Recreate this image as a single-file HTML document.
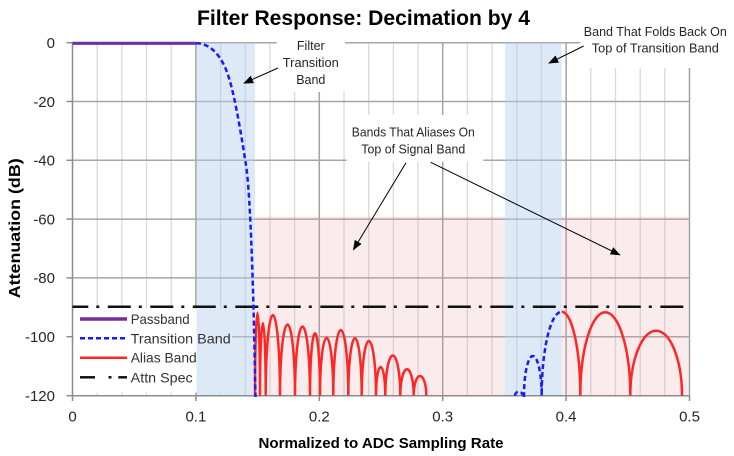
<!DOCTYPE html>
<html>
<head>
<meta charset="utf-8">
<style>
  html,body{margin:0;padding:0;background:#fff;}
  svg{display:block;}
  text{font-family:"Liberation Sans",Arial,sans-serif;}
</style>
</head>
<body>
<svg width="734" height="456" viewBox="0 0 734 456" xmlns="http://www.w3.org/2000/svg">
  <defs>
    <clipPath id="plot">
      <rect x="72.5" y="40" width="617.5" height="357.5"/>
    </clipPath>
    <marker id="ah" viewBox="0 0 10 8" markerWidth="10" markerHeight="8" refX="9.5" refY="4" orient="auto" markerUnits="userSpaceOnUse">
      <path d="M0,0 L10,4 L0,8 z" fill="#000"/>
    </marker>
  </defs>

  <rect width="734" height="456" fill="#fff"/>

  <!-- Title -->
  <text x="363.5" y="25" font-size="21" font-weight="bold" text-anchor="middle" textLength="333" lengthAdjust="spacingAndGlyphs" fill="#000">Filter Response: Decimation by 4</text>

  <!-- minor vertical gridlines -->
  <g stroke="#d9d9d9" stroke-width="1.3">
    <line x1="97.2" y1="42.7" x2="97.2" y2="395.7"/>
    <line x1="121.9" y1="42.7" x2="121.9" y2="395.7"/>
    <line x1="146.5" y1="42.7" x2="146.5" y2="395.7"/>
    <line x1="171.2" y1="42.7" x2="171.2" y2="395.7"/>
    <line x1="220.6" y1="42.7" x2="220.6" y2="395.7"/>
    <line x1="245.3" y1="42.7" x2="245.3" y2="395.7"/>
    <line x1="270.0" y1="42.7" x2="270.0" y2="395.7"/>
    <line x1="294.6" y1="42.7" x2="294.6" y2="395.7"/>
    <line x1="344.0" y1="42.7" x2="344.0" y2="395.7"/>
    <line x1="368.7" y1="42.7" x2="368.7" y2="395.7"/>
    <line x1="393.4" y1="42.7" x2="393.4" y2="395.7"/>
    <line x1="418.0" y1="42.7" x2="418.0" y2="395.7"/>
    <line x1="467.4" y1="42.7" x2="467.4" y2="395.7"/>
    <line x1="492.1" y1="42.7" x2="492.1" y2="395.7"/>
    <line x1="516.8" y1="42.7" x2="516.8" y2="395.7"/>
    <line x1="541.4" y1="42.7" x2="541.4" y2="395.7"/>
    <line x1="590.8" y1="42.7" x2="590.8" y2="395.7"/>
    <line x1="615.5" y1="42.7" x2="615.5" y2="395.7"/>
    <line x1="640.2" y1="42.7" x2="640.2" y2="395.7"/>
    <line x1="664.8" y1="42.7" x2="664.8" y2="395.7"/>
  </g>
  <!-- major vertical gridlines -->
  <g stroke="#a3a3a3" stroke-width="1.5">
    <line x1="195.9" y1="42.7" x2="195.9" y2="395.7"/>
    <line x1="319.3" y1="42.7" x2="319.3" y2="395.7"/>
    <line x1="442.7" y1="42.7" x2="442.7" y2="395.7"/>
    <line x1="566.1" y1="42.7" x2="566.1" y2="395.7"/>
    <line x1="689.5" y1="42.7" x2="689.5" y2="395.7"/>
  </g>
  <!-- horizontal gridlines -->
  <g stroke="#a6a6a6" stroke-width="1.5">
    <line x1="72.5" y1="42.7" x2="689.5" y2="42.7"/>
    <line x1="72.5" y1="101.5" x2="689.5" y2="101.5"/>
    <line x1="72.5" y1="160.3" x2="689.5" y2="160.3"/>
    <line x1="72.5" y1="219.1" x2="689.5" y2="219.1"/>
    <line x1="72.5" y1="277.9" x2="689.5" y2="277.9"/>
    <line x1="72.5" y1="336.7" x2="689.5" y2="336.7"/>
  </g>

  <!-- legend background -->
  <rect x="73.5" y="308.5" width="158.5" height="84" fill="#fff"/>

  <!-- shaded regions -->
  <rect x="196.5" y="42.7" width="58.5" height="353" fill="rgb(180,205,240)" fill-opacity="0.44"/>
  <rect x="505" y="42.7" width="56.7" height="353" fill="rgb(180,205,240)" fill-opacity="0.44"/>
  <rect x="255" y="216.5" width="250" height="179.2" fill="rgb(230,150,150)" fill-opacity="0.18"/>
  <rect x="561.7" y="216.5" width="127.8" height="179.2" fill="rgb(230,150,150)" fill-opacity="0.18"/>

  <!-- annotation boxes (white) -->
  <rect x="276.7" y="30" width="68.3" height="62" fill="#fff"/>
  <rect x="580.3" y="18" width="153.7" height="50" fill="#fff"/>
  <rect x="346.7" y="115" width="136.6" height="46.8" fill="#fff"/>

  <!-- axes -->
  <g stroke="#8c8c8c" stroke-width="1.5">
    <line x1="72.5" y1="42.7" x2="72.5" y2="396.5"/>
    <line x1="72" y1="395.7" x2="689.5" y2="395.7"/>
    <line x1="66.5" y1="42.7" x2="72.5" y2="42.7"/>
    <line x1="66.5" y1="101.5" x2="72.5" y2="101.5"/>
    <line x1="66.5" y1="160.3" x2="72.5" y2="160.3"/>
    <line x1="66.5" y1="219.1" x2="72.5" y2="219.1"/>
    <line x1="66.5" y1="277.9" x2="72.5" y2="277.9"/>
    <line x1="66.5" y1="336.7" x2="72.5" y2="336.7"/>
    <line x1="66.5" y1="395.7" x2="72.5" y2="395.7"/>
    <line x1="72.5" y1="395.7" x2="72.5" y2="401"/>
    <line x1="195.9" y1="395.7" x2="195.9" y2="401"/>
    <line x1="319.3" y1="395.7" x2="319.3" y2="401"/>
    <line x1="442.7" y1="395.7" x2="442.7" y2="401"/>
    <line x1="566.1" y1="395.7" x2="566.1" y2="401"/>
    <line x1="689.5" y1="395.7" x2="689.5" y2="401"/>
  </g>

  <!-- series -->
  <g clip-path="url(#plot)" fill="none">
    <!-- Attn spec -->
    <line x1="72.5" y1="306.8" x2="689.5" y2="306.8" stroke="#111" stroke-width="2.5" stroke-dasharray="23 8 3 8.5" stroke-dashoffset="7.2"/>
    <!-- Passband -->
    <line x1="72.5" y1="43.3" x2="196" y2="43.3" stroke="#7030a0" stroke-width="3.2"/>
    <!-- Alias band left -->
    <path d="M255,395.7 A2.5,83 0 0 1 260,395.7 A2.85,72.7 0 0 1 265.7,395.7 A7.15,80.7 0 0 1 280,395.7 A7.5,71.2 0 0 1 295,395.7 A7.5,69.2 0 0 1 310,395.7 A5,62.4 0 0 1 320,395.7 A6.65,58 0 0 1 333.3,395.7 A7.5,65.7 0 0 1 348.3,395.7 A6.7,57.4 0 0 1 361.7,395.7 A7.15,54.7 0 0 1 376,395.7 A4.65,28.7 0 0 1 385.3,395.7 A7.5,40.2 0 0 1 400.3,395.7 A6.7,26.4 0 0 1 413.7,395.7 A6.3,19.7 0 0 1 426.3,395.7" stroke="#ff2626" stroke-width="2.5" stroke-linejoin="miter"/>
    <!-- Alias band right -->
    <path d="M561.7,311.7 A18.6,84 0 0 1 580.3,395.7 A25,83.4 0 0 1 630.3,395.7 A25.85,65 0 0 1 682,395.7" stroke="#ff2626" stroke-width="2.5"/>
    <!-- Transition band -->
    <path d="M196,43.2 C210,43.2 222,55 229,78 C236,101 242,140 246,165 C249.5,187 253,260 255.5,397" stroke="#1a1aff" stroke-width="2.5" stroke-dasharray="5 3"/>
    <path d="M515,395.7 A3.85,4 0 0 1 522.7,395.7 M524,397 L524,395.7 A8.85,39.7 0 0 1 541.7,395.7 A20,84 0 0 1 561.7,311.7" stroke="#1a1aff" stroke-width="2.5" stroke-dasharray="5 3"/>
  </g>

  <!-- Y tick labels -->
  <g font-size="15" fill="#262626" text-anchor="end">
    <text x="55" y="48">0</text>
    <text x="55" y="106.8">-20</text>
    <text x="55" y="165.6">-40</text>
    <text x="55" y="224.4">-60</text>
    <text x="55" y="283.2">-80</text>
    <text x="55" y="342">-100</text>
    <text x="55" y="400.8">-120</text>
  </g>
  <!-- X tick labels -->
  <g font-size="15" fill="#262626" text-anchor="middle">
    <text x="72.5" y="421.7">0</text>
    <text x="195.9" y="421.7">0.1</text>
    <text x="319.3" y="421.7">0.2</text>
    <text x="442.7" y="421.7">0.3</text>
    <text x="566.1" y="421.7">0.4</text>
    <text x="689.5" y="421.7">0.5</text>
  </g>

  <!-- Axis titles -->
  <text x="381" y="448" font-size="15" font-weight="bold" text-anchor="middle" textLength="245" lengthAdjust="spacingAndGlyphs" fill="#000">Normalized to ADC Sampling Rate</text>
  <text transform="translate(20,228.3) rotate(-90)" x="0" y="0" font-size="15.5" font-weight="bold" text-anchor="middle" textLength="140" lengthAdjust="spacingAndGlyphs" fill="#000">Attenuation (dB)</text>

  <!-- Legend -->
  <line x1="80" y1="319" x2="127" y2="319" stroke="#7030a0" stroke-width="3.5"/>
  <line x1="80" y1="338.3" x2="127" y2="338.3" stroke="#1a1aff" stroke-width="2.5" stroke-dasharray="5 3"/>
  <line x1="80" y1="357.7" x2="127" y2="357.7" stroke="#ff2626" stroke-width="2.5"/>
  <line x1="80" y1="377.3" x2="95" y2="377.3" stroke="#111" stroke-width="2.5"/>
  <line x1="108.5" y1="377.3" x2="111.5" y2="377.3" stroke="#111" stroke-width="2.5"/>
  <line x1="118.3" y1="377.3" x2="127" y2="377.3" stroke="#111" stroke-width="2.5"/>
  <g font-size="14" fill="#333">
    <text x="130.7" y="324" textLength="59" lengthAdjust="spacingAndGlyphs">Passband</text>
    <text x="130.7" y="343.3" textLength="100" lengthAdjust="spacingAndGlyphs">Transition Band</text>
    <text x="130.7" y="362.7" textLength="66" lengthAdjust="spacingAndGlyphs">Alias Band</text>
    <text x="130.7" y="382.3" textLength="62" lengthAdjust="spacingAndGlyphs">Attn Spec</text>
  </g>

  <!-- Annotations -->
  <g font-size="12.5" fill="#262626" text-anchor="middle">
    <text x="310.8" y="50.2">Filter</text>
    <text x="310.8" y="67.2" textLength="56" lengthAdjust="spacingAndGlyphs">Transition</text>
    <text x="310.8" y="83.8">Band</text>
    <text x="655.3" y="36" textLength="143" lengthAdjust="spacingAndGlyphs">Band That Folds Back On</text>
    <text x="655.3" y="52.7" textLength="127" lengthAdjust="spacingAndGlyphs">Top of Transition Band</text>
    <text x="413.3" y="136.7" textLength="123" lengthAdjust="spacingAndGlyphs">Bands That Aliases On</text>
    <text x="413.3" y="153.7" textLength="104" lengthAdjust="spacingAndGlyphs">Top of Signal Band</text>
  </g>
  <g stroke="#000" stroke-width="1" fill="none">
    <line x1="278" y1="68" x2="243.7" y2="83.3" marker-end="url(#ah)"/>
    <line x1="583.7" y1="46" x2="548.7" y2="63.3" marker-end="url(#ah)"/>
    <line x1="406" y1="162.7" x2="353.3" y2="250" marker-end="url(#ah)"/>
    <line x1="430.7" y1="162.3" x2="620" y2="255" marker-end="url(#ah)"/>
  </g>
</svg>
</body>
</html>
